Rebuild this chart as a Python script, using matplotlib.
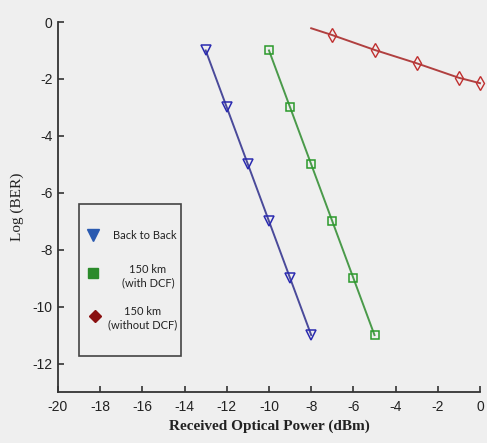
import matplotlib
matplotlib.use('Agg')
from matplotlib import pyplot as plt
from matplotlib.patches import Rectangle

plt.rcParams['axes.unicode_minus'] = False

b2b_x = [-13, -12, -11, -10, -9, -8]
b2b_y = [-1, -3, -5, -7, -9, -11]

dcf_x = [-10, -9, -8, -7, -6, -5]
dcf_y = [-1, -3, -5, -7, -9, -11]

nodcf_x = [-8, -7, -5, -3, -1, 0]
nodcf_y = [-0.22, -0.46, -0.98, -1.45, -1.96, -2.15]

x_ticks = [-20, -18, -16, -14, -12, -10, -8, -6, -4, -2, 0]
y_ticks = [0, -2, -4, -6, -8, -10, -12]

legend_labels = ['Back to Back', '150 km\n(with DCF)', '150 km\n(without DCF)']

bg = '#efefef'
fig = plt.figure(figsize=(4.87, 4.43), dpi=100, facecolor=bg)
ax = fig.add_axes([58/487, 1 - 392/443, 422/487, 370/443], facecolor=bg)

ax.plot(b2b_x, b2b_y, color='#4a4a9a', lw=1.4, marker='v', ms=7,
        mfc='none', mec='#2a2ab0', mew=1.1)
ax.plot(dcf_x, dcf_y, color='#4a9a4a', lw=1.4, marker='s', ms=6,
        mfc='none', mec='#2a9a2a', mew=1.1)
ax.plot(nodcf_x, nodcf_y, color='#b04040', lw=1.4, marker='d', ms=7,
        mfc='none', mec='#c03030', mew=1.0, markevery=[1, 2, 3, 4, 5],
        clip_on=False)

ax.set_xlim(-20, 0)
ax.set_ylim(-13, 0)
ax.set_xticks(x_ticks)
ax.set_yticks(y_ticks)
for s in ['top', 'right']:
    ax.spines[s].set_visible(False)
for s in ['left', 'bottom']:
    ax.spines[s].set_color('#333333')
    ax.spines[s].set_linewidth(1.3)
ax.tick_params(direction='in', length=4, width=1.2, color='#333333',
               labelsize=10, labelcolor='#222222')
ax.tick_params(axis='x', pad=6)
ax.tick_params(axis='y', pad=4)
for lab in ax.get_xticklabels() + ax.get_yticklabels():
    lab.set_family('Liberation Sans')

ax.set_xlabel('Received Optical Power (dBm)', family='Liberation Serif',
              fontweight='bold', fontsize=11, color='#222222', labelpad=4)
ax.set_ylabel('Log (BER)', family='Liberation Serif', fontsize=11,
              color='#222222', labelpad=6)

# legend box drawn by hand, like the reference
ax.add_patch(Rectangle((0.05, 0.097), 0.2415, 0.411, transform=ax.transAxes,
                       fill=False, ec='#444444', lw=1.2, zorder=5))
leg_marks = [('v', '#2a5ab0', 8), ('s', '#2a8a2a', 6.5), ('D', '#8a1010', 6.5)]
leg_mark_pos = [(0.083, 0.424), (0.083, 0.322), (0.088, 0.205)]
leg_text_pos = [(0.206, 0.424), (0.213, 0.313), (0.201, 0.200)]
for (m, c, s), (mx, my), (tx, ty), lab in zip(leg_marks, leg_mark_pos,
                                               leg_text_pos, legend_labels):
    ax.plot([mx], [my], ls='none', marker=m, ms=s, color=c,
            transform=ax.transAxes, zorder=6)
    ax.text(tx, ty, lab, transform=ax.transAxes, ha='center', va='center',
            multialignment='center', family='Lato', fontsize=8,
            color='#222222', linespacing=1.3, zorder=6)

fig.savefig('out.png', dpi=100, facecolor=bg)
